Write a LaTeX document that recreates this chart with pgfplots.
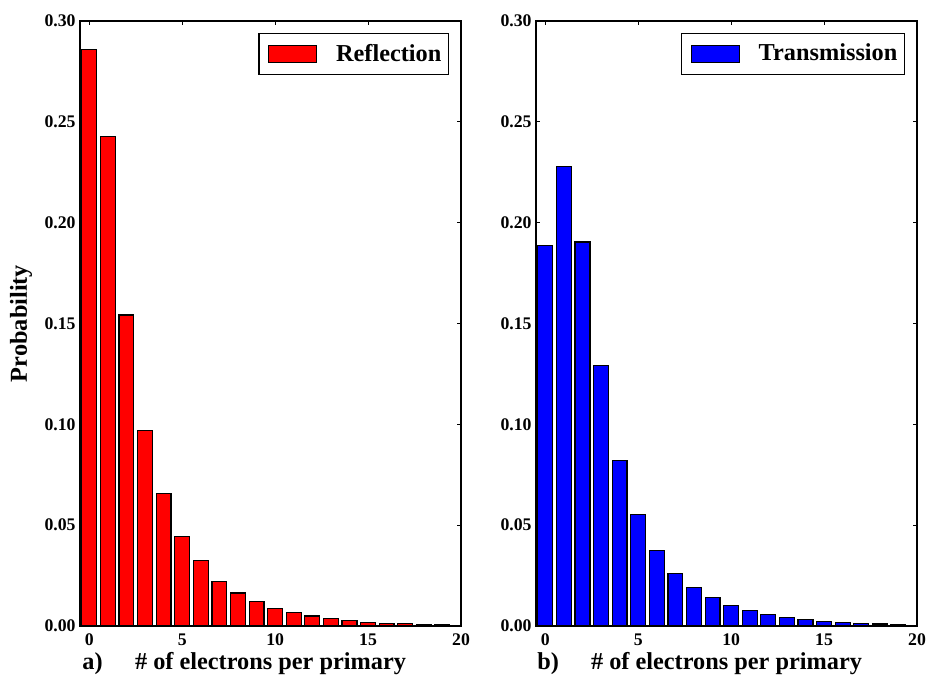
\documentclass[border=0pt]{standalone}
\usepackage{fontspec}
\setmainfont{Liberation Serif}
\usepackage{pgfplots}
\pgfplotsset{compat=1.18}

\newcommand\lblfont{\bfseries\fontsize{12.2}{14}\selectfont}
\newcommand\tickfont{\bfseries\fontsize{8.9}{10}\selectfont}

\definecolor{barred}{RGB}{255,0,0}
\definecolor{barblue}{RGB}{0,0,255}

\pgfplotstableread{
x y
0 0.2859
1 0.2428
2 0.1542
3 0.0968
4 0.0657
5 0.0443
6 0.0324
7 0.0222
8 0.0164
9 0.0120
10 0.0085
11 0.0068
12 0.0050
13 0.0036
14 0.0027
15 0.0019
16 0.0014
17 0.0011
18 0.0009
19 0.0007
}\refl

\pgfplotstableread{
x y
0 0.1886
1 0.2278
2 0.1904
3 0.1290
4 0.0821
5 0.0552
6 0.0374
7 0.0260
8 0.0189
9 0.0140
10 0.0101
11 0.0075
12 0.0057
13 0.0041
14 0.0034
15 0.0024
16 0.0017
17 0.0012
18 0.0010
19 0.0008
}\trans

\pgfplotsset{
  myaxis/.style={
    width=190.5bp, height=302.5bp, scale only axis,
    xmin=-0.5, xmax=20, ymin=0, ymax=0.30,
    clip=false,
    ybar, bar width=0.8,
    xtick={0,5,10,15,20},
    ytick={0,0.05,0.10,0.15,0.20,0.25,0.30},
    scaled y ticks=false,
    minor tick num=0,
    tick align=inside,
    major tick length=2.2bp,
    axis line style={line width=0.6bp},
    every tick/.style={black, line width=0.5bp},
    tick label style={font=\tickfont},
    /pgf/number format/assume math mode=true,
    yticklabel style={/pgf/number format/fixed, /pgf/number format/fixed zerofill, /pgf/number format/precision=2, xshift=1.3bp},
    xticklabel style={yshift=-0.5bp},
    xlabel style={font=\lblfont, at={(axis description cs:0.5,-0.0727)}, anchor=base},
    legend style={at={(axis description cs:0.9685,0.980)}, anchor=north east,
      draw=black, line width=0.6bp, font=\lblfont,
      inner xsep=1.5bp, inner ysep=3.2bp,
      nodes={inner sep=2bp},
      column sep=7.5bp},
    legend image code/.code={\path (0bp,0bp); \draw[#1, line width=0.6bp] (3bp,-4.25bp) rectangle (27bp,4.25bp);},
  }
}

\begin{document}
\begin{tikzpicture}
\useasboundingbox (0,0) rectangle (464bp,338bp);

\begin{axis}[myaxis,
  at={(40bp,25bp)}, anchor=south west,
  xlabel={\# of electrons per primary},
  ylabel={Probability},
  every axis y label/.style={at={(axis description cs:-0.155,0.5)}, rotate=90, anchor=center, font=\lblfont},
]
\addplot[fill=barred, draw=black, line width=0.6bp] table[x=x,y=y]{\refl};
\addlegendentry{Reflection}
\node[font=\lblfont, anchor=base west, inner sep=0pt, xshift=1bp] at (axis description cs:0,-0.0727) {a)};
\end{axis}

\begin{axis}[myaxis,
  at={(268bp,25bp)}, anchor=south west,
  xlabel={\# of electrons per primary},
]
\addplot[fill=barblue, draw=black, line width=0.6bp] table[x=x,y=y]{\trans};
\addlegendentry{Transmission}
\node[font=\lblfont, anchor=base west, inner sep=0pt, xshift=0.5bp] at (axis description cs:0,-0.0727) {b)};
\end{axis}
\end{tikzpicture}
\end{document}
